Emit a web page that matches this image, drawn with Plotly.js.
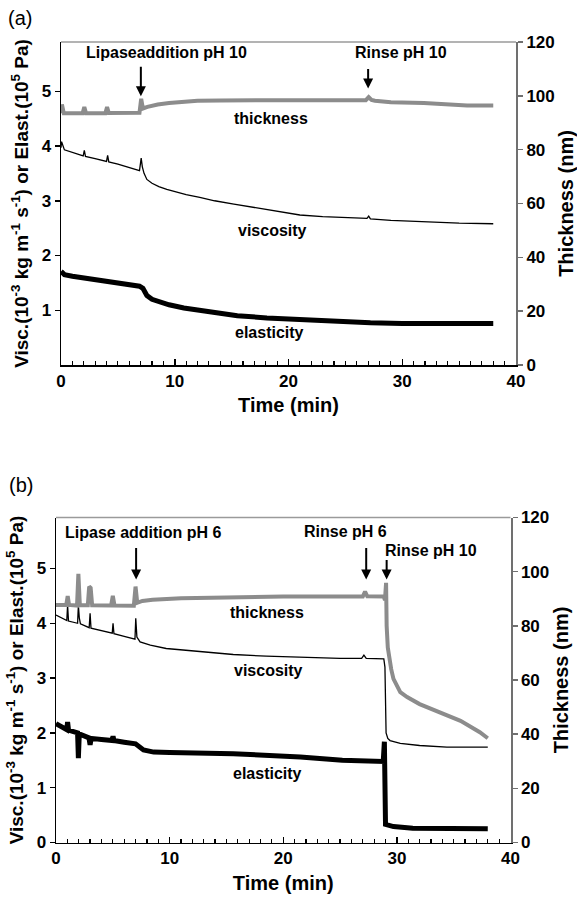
<!DOCTYPE html>
<html>
<head>
<meta charset="utf-8">
<script src="https://cdn.plot.ly/plotly-3.0.1.min.js"></script>
<style>html,body{margin:0;padding:0;background:#fff;}#chart{width:577px;height:898px;}</style>
</head>
<body>
<div id="chart"></div>
<script>
// ---------- Panel (a) ----------
const a_thk_t = [0, 0.08, 0.25, 1.9, 2.05, 2.2, 3.9, 4.05, 4.2, 6.9, 7.05, 7.2, 7.6, 8.5, 9.5, 10.2, 11, 12, 14, 17, 20, 24, 26.8, 27.05, 27.3, 27.6, 29, 31.9, 34.3, 35.7, 38];
const a_thk_v = [93.5, 96.8, 93.5, 93.5, 95.8, 93.5, 93.5, 95.8, 93.6, 93.7, 98.9, 95.3, 95.9, 96.8, 97.3, 97.6, 97.9, 98.2, 98.3, 98.3, 98.3, 98.3, 98.4, 99.5, 98.5, 98.2, 97.6, 97.3, 96.8, 96.4, 96.4];

const a_vis_t = [0, 0.05, 0.3, 1, 1.95, 2.05, 2.15, 3, 4, 4.1, 4.2, 5, 6, 6.9, 7.05, 7.15, 7.3, 7.55, 8, 8.6, 9.3, 10.2, 11, 12.2, 13.5, 15.2, 17, 18.1, 19.3, 21, 23, 25, 26.9, 27.05, 27.2, 29, 31, 33, 35, 38];
const a_vis_v = [3.97, 4.08, 3.93, 3.88, 3.82, 3.92, 3.81, 3.77, 3.72, 3.83, 3.71, 3.67, 3.61, 3.55, 3.78, 3.62, 3.5, 3.39, 3.32, 3.26, 3.21, 3.15, 3.11, 3.06, 3.0, 2.94, 2.88, 2.84, 2.8, 2.74, 2.71, 2.69, 2.68, 2.72, 2.67, 2.64, 2.62, 2.6, 2.59, 2.58];

const a_ela_t = [0, 0.3, 1, 2, 3, 4, 5, 6, 6.9, 7.2, 7.55, 8, 8.7, 9.5, 10.8, 12, 13.7, 15.5, 18.1, 21, 24, 27.2, 30, 34, 38];
const a_ela_v = [1.71, 1.65, 1.62, 1.59, 1.55, 1.52, 1.49, 1.46, 1.44, 1.40, 1.27, 1.2, 1.15, 1.1, 1.04, 1.0, 0.95, 0.9, 0.86, 0.83, 0.8, 0.77, 0.76, 0.76, 0.76];

// ---------- Panel (b) ----------
const b_thk_t = [0, 0.9, 1.03, 1.15, 1.85, 1.97, 2.1, 2.8, 2.92, 3.05, 3.18, 4.85, 5.0, 5.15, 6.85, 7.0, 7.15, 7.6, 8.5, 11, 15, 20, 27.0, 27.2, 27.4, 28.85, 28.95, 29.05, 29.1, 29.2, 29.5, 29.7, 30.3, 30.9, 32, 33.8, 35.6, 37.3, 38];
const b_thk_v = [87.7, 87.7, 91.0, 87.7, 87.5, 99.2, 87.6, 87.6, 94.5, 94.0, 87.6, 87.5, 91.1, 87.5, 87.4, 94.5, 88.5, 89.2, 89.6, 90.2, 90.5, 90.8, 90.8, 92.6, 90.9, 90.8, 89.5, 95.9, 80, 72, 64, 60.4, 55.5, 53.7, 51.1, 48.1, 44.9, 40.7, 38.5];

const b_vis_t = [0, 0.5, 0.95, 1.02, 1.1, 1.9, 1.97, 2.05, 2.15, 2.92, 3.0, 3.08, 4, 4.95, 5.02, 5.1, 6, 6.95, 7.02, 7.12, 7.4, 8.3, 9.7, 12.7, 15.6, 18.5, 21.5, 25, 26.9, 27.1, 27.3, 28.85, 28.95, 29.05, 29.2, 29.4, 30.3, 32, 34.4, 38];
const b_vis_v = [4.15, 4.1, 4.05, 4.33, 4.04, 4.0, 4.33, 4.1, 3.99, 3.92, 4.18, 3.91, 3.86, 3.82, 4.0, 3.81, 3.76, 3.71, 4.09, 3.75, 3.66, 3.6, 3.54, 3.48, 3.43, 3.4, 3.38, 3.36, 3.36, 3.42, 3.36, 3.35, 3.2, 2.0, 1.9, 1.86, 1.81, 1.77, 1.74, 1.74];

const b_ela_t = [0, 0.5, 0.95, 1.02, 1.1, 1.9, 1.97, 2.05, 2.9, 3.0, 3.1, 4, 4.95, 5.02, 5.1, 6, 7, 7.7, 8.6, 10, 15.6, 21.5, 25.2, 28.8, 28.9, 29.0, 29.7, 31.4, 34.9, 38];
const b_ela_v = [2.17, 2.11, 2.06, 2.2, 2.05, 2.0, 1.54, 1.98, 1.91, 1.78, 1.9, 1.88, 1.86, 1.94, 1.86, 1.83, 1.8, 1.69, 1.65, 1.64, 1.62, 1.56, 1.5, 1.48, 1.84, 0.33, 0.29, 0.26, 0.26, 0.25];

const leftTicksA = [1, 2, 3, 4, 5];
const leftTicksB = [0, 1, 2, 3, 4, 5];
const rightTicks = [0, 20, 40, 60, 80, 100, 120];
const timeTicks = [0, 10, 20, 30, 40];

const FONT = 'Liberation Sans, Arial, Helvetica, sans-serif';
const GRAY = '#8c8c8c';
const AXGRAY = '#707070';
const yTitle = 'Visc.(10<sup>-3</sup> kg m<sup>-1</sup> s<sup>-1</sup>) or Elast.(10<sup>5</sup> Pa)';

const traces = [
  {x: a_thk_t, y: a_thk_v, xaxis: 'x', yaxis: 'y2', mode: 'lines', line: {color: GRAY, width: 4}},
  {x: a_vis_t, y: a_vis_v, xaxis: 'x', yaxis: 'y', mode: 'lines', line: {color: '#000', width: 1.3}},
  {x: a_ela_t, y: a_ela_v, xaxis: 'x', yaxis: 'y', mode: 'lines', line: {color: '#000', width: 5}},
  {x: b_thk_t, y: b_thk_v, xaxis: 'x2', yaxis: 'y4', mode: 'lines', line: {color: GRAY, width: 4}},
  {x: b_vis_t, y: b_vis_v, xaxis: 'x2', yaxis: 'y3', mode: 'lines', line: {color: '#000', width: 1.3}},
  {x: b_ela_t, y: b_ela_v, xaxis: 'x2', yaxis: 'y3', mode: 'lines', line: {color: '#000', width: 5}}
];

function xAx(domain, anchor) {
  return {
    domain: domain, anchor: anchor, range: [0, 40], tickvals: timeTicks,
    ticks: 'inside', ticklen: 6, tickwidth: 1.5, tickcolor: '#000',
    minor: {dtick: 1, ticks: 'inside', ticklen: 4, tickwidth: 1.2, tickcolor: '#000', showgrid: false},
    showline: true, linecolor: '#000', linewidth: 1.5, showgrid: false, zeroline: false,
    tickfont: {family: FONT, size: 17, color: '#000', weight: 'bold'},
    title: {text: 'Time (min)', font: {family: FONT, size: 20, color: '#000', weight: 'bold'}, standoff: 8}
  };
}
function yLeft(domain, anchor, range, tv) {
  return {
    domain: domain, anchor: anchor, range: range, tickvals: tv,
    ticks: 'outside', ticklen: 5, tickwidth: 1.5, tickcolor: '#000',
    showline: true, linecolor: '#000', linewidth: 1.5, showgrid: false, zeroline: false,
    tickfont: {family: FONT, size: 17, color: '#000', weight: 'bold'},
    title: {text: yTitle, font: {family: FONT, size: 19, color: '#000', weight: 'bold'}, standoff: 8}
  };
}
function yRight(overlay, anchor) {
  return {
    overlaying: overlay, anchor: anchor, side: 'right', range: [0, 120], tickvals: rightTicks,
    ticks: 'outside', ticklen: 5, tickwidth: 1.5, tickcolor: AXGRAY,
    showline: true, linecolor: AXGRAY, linewidth: 2, showgrid: false, zeroline: false,
    tickfont: {family: FONT, size: 17, color: '#000', weight: 'bold'},
    title: {text: 'Thickness (nm)', font: {family: FONT, size: 20, color: '#000', weight: 'bold'}, standoff: 6}
  };
}

const AF = {family: FONT, size: 16, color: '#000', weight: 'bold'};
function label(txt, x, y, xr, yr) {
  return {text: txt, x: x, y: y, xref: xr, yref: yr, showarrow: false, xanchor: 'center', yanchor: 'middle', font: AF};
}
function arrow(x, y, len, xr, yr) {
  return {text: '', x: x, y: y, xref: xr, yref: yr, showarrow: true, ax: 0, ay: -len,
          arrowhead: 2, arrowsize: 1, arrowwidth: 2, arrowcolor: '#000', standoff: 0};
}

const annotations = [
  {text: '(a)', x: 20/577, y: 1 - 18/898, xref: 'paper', yref: 'paper', showarrow: false, xanchor: 'center', yanchor: 'middle', font: {family: FONT, size: 20, color: '#000'}},
  {text: '(b)', x: 21/577, y: 1 - 485/898, xref: 'paper', yref: 'paper', showarrow: false, xanchor: 'center', yanchor: 'middle', font: {family: FONT, size: 20, color: '#000'}},
  label('Lipaseaddition pH 10', 9.3, 5.71, 'x', 'y'),
  label('Rinse pH 10', 29.9, 5.71, 'x', 'y'),
  arrow(7.02, 4.91, 31, 'x', 'y'),
  arrow(27.0, 5.05, 21, 'x', 'y'),
  label('thickness', 18.46, 4.5, 'x', 'y'),
  label('viscosity', 18.57, 2.45, 'x', 'y'),
  label('elasticity', 18.3, 0.6, 'x', 'y'),
  label('Lipase addition pH 6', 7.71, 5.66, 'x2', 'y3'),
  label('Rinse pH 6', 25.46, 5.67, 'x2', 'y3'),
  label('Rinse pH 10', 32.98, 5.32, 'x2', 'y3'),
  arrow(7.05, 4.8, 33, 'x2', 'y3'),
  arrow(27.3, 4.8, 33, 'x2', 'y3'),
  arrow(29.1, 4.8, 21, 'x2', 'y3'),
  label('thickness', 18.6, 4.2, 'x2', 'y3'),
  label('viscosity', 18.7, 3.13, 'x2', 'y3'),
  label('elasticity', 18.57, 1.26, 'x2', 'y3')
];

const shapes = [
  {type: 'line', xref: 'x domain', yref: 'y domain', x0: 0, x1: 1, y0: 1, y1: 1, line: {color: '#9a9a9a', width: 1.5}},
  {type: 'line', xref: 'x2 domain', yref: 'y3 domain', x0: 0, x1: 1, y0: 1, y1: 1, line: {color: '#9a9a9a', width: 1.5}}
];

const layout = {
  width: 577, height: 898,
  margin: {l: 0, r: 0, t: 0, b: 0},
  paper_bgcolor: '#fff', plot_bgcolor: '#fff',
  showlegend: false,
  font: {family: FONT, color: '#000'},
  xaxis: xAx([61/577, 516/577], 'y'),
  yaxis: yLeft([1 - 365/898, 1 - 42/898], 'x', [0, 5.9], leftTicksA),
  yaxis2: yRight('y', 'x'),
  xaxis2: xAx([56/577, 510.5/577], 'y3'),
  yaxis3: yLeft([1 - 842.5/898, 1 - 517.5/898], 'x2', [0, 5.93], leftTicksB),
  yaxis4: yRight('y3', 'x2'),
  annotations: annotations,
  shapes: shapes
};

Plotly.newPlot('chart', traces, layout, {displayModeBar: false, staticPlot: true});
</script>
</body>
</html>
